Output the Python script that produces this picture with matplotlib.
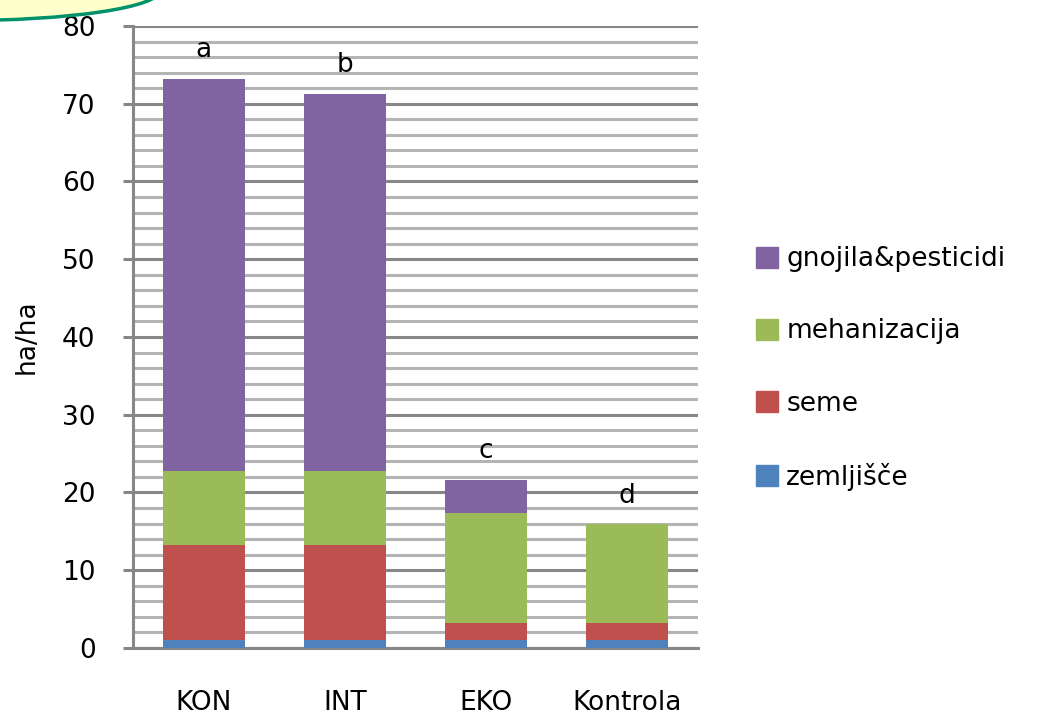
import numpy as np
import matplotlib
matplotlib.use("Agg")
import matplotlib.pyplot as plt
from matplotlib.patches import Ellipse, Patch
from matplotlib.ticker import MultipleLocator

# Podatki
kategorije = ["KON", "INT", "EKO", "Kontrola"]
zemljisce = [1.0, 1.0, 1.0, 1.0]
seme = [12.3, 12.2, 2.2, 2.2]
mehanizacija = [9.5, 9.6, 14.2, 12.7]
gnojila = [50.4, 48.5, 4.2, 0.0]
crke = ["a", "b", "c", "d"]

serije = [
    ("zemljišče", zemljisce, "#4F81BD"),
    ("seme", seme, "#C0504D"),
    ("mehanizacija", mehanizacija, "#9BBB59"),
    ("gnojila&pesticidi", gnojila, "#8064A2"),
]

plt.rcParams["font.family"] = ["DejaVu Sans"]
FS = 19

fig = plt.figure(figsize=(10.4, 7.15), dpi=100)
ax = fig.add_axes([0.128, 0.0937, 0.543, 0.87])

x = np.arange(len(kategorije))
spodaj = np.zeros(len(kategorije))
for ime, vrednosti, barva in serije:
    ax.bar(x, vrednosti, bottom=spodaj, width=0.58, color=barva, zorder=3)
    spodaj += np.array(vrednosti)

# Črke nad stolpci
for i, crka in enumerate(crke):
    ax.text(x[i], spodaj[i] + 2.0, crka, ha="center", va="bottom", fontsize=FS)

ax.set_xlim(-0.5, 3.5)
ax.set_ylim(0, 80)
ax.yaxis.set_major_locator(MultipleLocator(10))
ax.yaxis.set_minor_locator(MultipleLocator(2))
ax.grid(True, which="minor", axis="y", color="#B4B4B4", linewidth=2.2, zorder=0)
ax.grid(True, which="major", axis="y", color="#878787", linewidth=2.2, zorder=1)
ax.set_xticks(x)
ax.set_xticklabels(kategorije, fontsize=FS)
ax.tick_params(axis="y", which="major", labelsize=FS, length=7, width=2.2,
               color="#878787", pad=20)
ax.tick_params(axis="y", which="minor", length=0)
ax.tick_params(axis="x", length=0, pad=30)
for s in ["top", "right"]:
    ax.spines[s].set_visible(False)
ax.spines["left"].set_color("#878787")
ax.spines["left"].set_linewidth(2.2)
ax.spines["bottom"].set_color("#878787")
ax.spines["bottom"].set_linewidth(2.2)
ax.set_ylabel("ha/ha", fontsize=FS, labelpad=16)

# Legenda
rocke = [Patch(color=b, label=i) for i, _, b in serije][::-1]
fig.legend(handles=rocke, loc="center left", bbox_to_anchor=(0.704, 0.4846),
           frameon=False, fontsize=FS, labelspacing=1.75, handlelength=0.85,
           handleheight=0.85, handletextpad=0.3)

# Okrasni lok zgoraj levo
lok = Ellipse((-0.4, 7.244), 4.0, 0.6, transform=fig.dpi_scale_trans,
              facecolor="#FFFFCC", edgecolor="#00906A", linewidth=2.5, clip_on=False)
fig.add_artist(lok)

plt.savefig("out.png", dpi=100)
